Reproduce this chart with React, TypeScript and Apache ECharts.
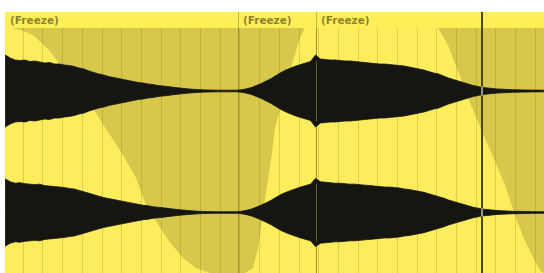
import { useEffect, useRef } from "react";
import * as echarts from "echarts";

// Clip headers (beat positions on the 1/16 grid)
const CLIP_NAMES = ["(Freeze)", "(Freeze)", "(Freeze)"];
const CLIP_STARTS = [-0.91, 10.91, 14.87];
const PLAY_MARKER = 23.3;

// Volume automation envelope (0 = bottom, 1 = top)
const ENV_BEATS = [-0.91, -0.51, -0.05, 0.51, 1.37, 1.88, 2.89, 3.76, 4.42, 5.08, 5.74, 6.24, 6.75, 7.41, 8.12, 8.78, 9.49, 11.27, 11.68, 11.93, 12.08, 12.34, 12.64, 12.79, 13.15, 13.65, 14.06, 14.31, 21.07, 21.57, 22.08, 22.74, 23.45, 23.96, 24.47, 24.97, 25.48, 25.99, 26.29, 26.45];
const ENV_LEVELS = [1, 1, 0.99, 0.971, 0.906, 0.849, 0.755, 0.645, 0.563, 0.482, 0.388, 0.278, 0.212, 0.131, 0.061, 0.02, 0, 0, 0.02, 0.1, 0.18, 0.33, 0.49, 0.59, 0.7, 0.85, 0.96, 1, 1, 0.931, 0.824, 0.686, 0.551, 0.457, 0.359, 0.237, 0.131, 0.049, 0.008, 0];

// Waveform peak amplitudes per channel, sampled every quarter step
const WAVE_START = -0.9;
const WAVE_STEP = 0.25;
const CH1_AMP = [36, 33, 31, 30.5, 31, 29.5, 30, 29, 28, 28.5, 27, 27, 26, 25.5, 24.5, 23, 22, 20, 18.5, 17, 16, 14.5, 13.5, 12.5, 11.5, 10.5, 9.5, 8.5, 8, 7, 6.5, 5.5, 5, 4.5, 3.8, 3.2, 2.7, 2.2, 1.8, 1.5, 1.2, 1, 0.9, 0.8, 0.8, 0.8, 0.8, 0.8, 1.3, 2.2, 3.5, 5.5, 7.5, 10, 12.5, 15.5, 18.5, 21, 23, 25, 26.5, 28, 29.5, 36, 32, 31.5, 31, 31, 30.5, 30, 30, 29.5, 29, 28.5, 28, 27.5, 27, 27, 26.5, 26, 25.5, 25, 24, 23, 22, 21, 19.5, 18, 17, 15, 13, 11.5, 10, 8.5, 7, 5.5, 4.5, 3.5, 3, 2.5, 2, 1.8, 1.5, 1.3, 1.2, 1.1, 1, 0.9, 0.9, 0.8, 0.8];
const CH2_AMP = [35, 32, 30.5, 31, 30, 29.5, 29, 29.5, 28, 27.5, 27, 26.5, 26, 25, 24.5, 23, 21.5, 20, 18.5, 17, 15.5, 14.5, 13.5, 12.5, 11.5, 10.5, 9.5, 8.5, 7.5, 7, 6, 5.5, 5, 4.3, 3.7, 3.1, 2.6, 2.1, 1.7, 1.4, 1.1, 1, 0.9, 0.8, 0.8, 0.8, 0.8, 0.8, 1.3, 2.3, 3.6, 5.6, 7.8, 10.2, 12.8, 15.8, 18.8, 21, 23, 24.8, 26.5, 28, 29.5, 35.5, 32, 31.5, 31, 30.5, 30.5, 30, 29.5, 29.5, 29, 28.5, 28, 27.5, 27, 26.5, 26.5, 26, 25.5, 24.5, 24, 23, 22, 21, 19.5, 18, 16.5, 15, 13, 11.5, 10, 8.5, 7, 5.5, 4.5, 3.5, 3, 2.5, 2, 1.8, 1.5, 1.3, 1.2, 1.1, 1, 0.9, 0.9, 0.8, 0.8];

const X_MIN = -1;
const X_MAX = 26.45;

const BRIGHT = "#fdec5b";
const DARK = "#d7c84c";
const HEADER = "#feee58";
const WAVE = "#151512";
const TEXT = "#6e6527";

export default function App() {
  const ref = useRef<HTMLDivElement>(null);

  useEffect(() => {
    const chart = echarts.init(ref.current!, undefined, { renderer: "svg" });

    const xAx = (gridIndex: number, split: boolean) => ({
      type: "value",
      gridIndex,
      min: X_MIN,
      max: X_MAX,
      interval: 1,
      show: split,
      z: 5,
      axisLine: { show: false },
      axisTick: { show: false },
      axisLabel: { show: false },
      splitLine: { show: split, lineStyle: { color: "rgba(110,95,10,0.22)", width: 1 } },
    });

    const waveSeries = (idx: number, amps: number[]) => {
      const pts = amps.map((a, i) => [WAVE_START + i * WAVE_STEP, a]);
      return {
        type: "custom",
        xAxisIndex: idx,
        yAxisIndex: idx,
        z: 6,
        silent: true,
        data: pts,
        encode: { x: 0, y: 1 },
        renderItem: (params: any, api: any) => {
          if (params.dataIndex !== 0) return null;
          const top = pts.map((p) => api.coord([p[0], p[1]]));
          const bottom = pts
            .slice()
            .reverse()
            .map((p) => api.coord([p[0], -p[1]]));
          return {
            type: "polygon",
            shape: { points: top.concat(bottom) },
            style: { fill: WAVE, stroke: WAVE, lineWidth: 0.8 },
          };
        },
        markLine: {
          silent: true,
          z: 10,
          symbol: ["none", "none"],
          label: { show: false },
          data: [
            [
              { coord: [CLIP_STARTS[2], -30], lineStyle: { color: "rgba(200,185,90,0.45)", width: 1, type: "solid" } },
              { coord: [CLIP_STARTS[2], 30] },
            ],
            [
              { coord: [PLAY_MARKER, -4.5], lineStyle: { color: "#b9b8ad", width: 1.6, type: "solid" } },
              { coord: [PLAY_MARKER, 4.5] },
            ],
          ],
        },
      };
    };

    const dividerData = (main: boolean) => [
      ...CLIP_STARTS.slice(1).map((x) => ({
        xAxis: x,
        lineStyle: { color: main ? "#a09232" : "#c2b244", width: 1, type: "solid" },
      })),
      { xAxis: PLAY_MARKER, lineStyle: { color: "#4b4519", width: 2, type: "solid" } },
    ];

    const option = {
      animation: false,
      grid: [
        { left: 3.3, right: 0, top: 28, bottom: 0, show: true, backgroundColor: DARK, borderWidth: 0 },
        { left: 3.3, right: 0, top: 28, height: 126 },
        { left: 3.3, right: 0, top: 152, height: 126 },
        { left: 3.3, right: 0, top: 12, height: 16, show: true, backgroundColor: HEADER, borderWidth: 0 },
      ],
      xAxis: [xAx(0, true), xAx(1, false), xAx(2, false), xAx(3, false)],
      yAxis: [
        { type: "value", gridIndex: 0, min: 0, max: 1, show: false },
        { type: "value", gridIndex: 1, min: -63, max: 63, show: false },
        { type: "value", gridIndex: 2, min: -63, max: 63, show: false },
        { type: "value", gridIndex: 3, min: 0, max: 1, show: false },
      ],
      series: [
        {
          type: "line",
          xAxisIndex: 0,
          yAxisIndex: 0,
          data: ENV_BEATS.map((b, i) => [b, ENV_LEVELS[i]]),
          symbol: "none",
          z: 2,
          silent: true,
          lineStyle: { width: 0 },
          areaStyle: { color: BRIGHT, opacity: 1 },
          markLine: {
            silent: true,
            z: 3,
            symbol: ["none", "none"],
            label: { show: false },
            data: dividerData(true),
          },
        },
        waveSeries(1, CH1_AMP),
        waveSeries(2, CH2_AMP),
        {
          type: "scatter",
          xAxisIndex: 3,
          yAxisIndex: 3,
          symbolSize: 0,
          silent: true,
          data: CLIP_STARTS.map((x, i) => ({ value: [x, 0.5], name: CLIP_NAMES[i] })),
          label: {
            show: true,
            position: "right",
            distance: 5,
            formatter: (p: any) => p.name,
            color: TEXT,
            fontSize: 10.5,
            fontWeight: "bold",
            fontFamily: "DejaVu Sans",
          },
          markLine: {
            silent: true,
            z: 3,
            symbol: ["none", "none"],
            label: { show: false },
            data: dividerData(false),
          },
        },
      ],
      graphic: [
        {
          type: "rect",
          z: 100,
          shape: { x: 0, y: 0, width: 5, height: 273 },
          style: { fill: "#ffffff" },
        },
      ],
    };

    chart.setOption(option as any);
    return () => chart.dispose();
  }, []);

  return (
    <div
      ref={ref}
      style={{ position: "absolute", left: 0, top: 0, width: 544, height: 273 }}
    />
  );
}
